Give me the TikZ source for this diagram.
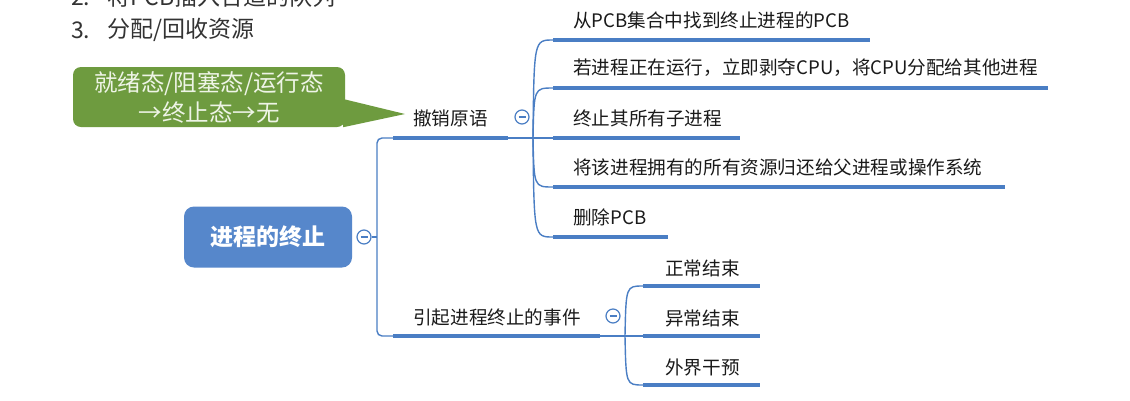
\documentclass[tikz,border=0pt]{standalone}
\usepackage{fontspec}
\setmainfont{Noto Sans CJK SC}
\definecolor{lineblue}{HTML}{4A7EC4}
\definecolor{rootblue}{HTML}{5687CB}
\definecolor{calloutgreen}{HTML}{6E9B3F}
\definecolor{callouttext}{HTML}{EEF4E6}
\definecolor{txt}{HTML}{1A1A1A}
\definecolor{toptxt}{HTML}{333333}
\begin{document}
\begin{tikzpicture}[x=1pt,y=-1pt,
  toptext/.style={anchor=west,inner sep=0pt,text=toptxt,font=\fontsize{23}{25}\selectfont},
  lbl/.style={anchor=west,inner sep=0pt,text=txt,font=\fontsize{18.6}{21}\selectfont},
  thickline/.style={draw=lineblue,line width=4pt},
  link/.style={draw=lineblue,line width=1.4pt},
  fold/.style={circle,draw=lineblue,line width=1.2pt,fill=white,minimum size=14pt,inner sep=0pt,
    path picture={\draw[lineblue,line width=1.1pt]([xshift=-3.5pt]path picture bounding box.center)--([xshift=3.5pt]path picture bounding box.center);}},
  root/.style={fill=rootblue,rounded corners=10pt,minimum width=168pt,minimum height=61pt,text=white,
    font=\fontsize{23}{26}\selectfont\bfseries},
  callout/.style={fill=calloutgreen,rounded corners=8pt,minimum width=272pt,minimum height=60pt,text=callouttext,
    align=center,font=\fontsize{23.5}{30}\selectfont}
]
\useasboundingbox (0,0) rectangle (1130,400);
\clip (0,0) rectangle (1130,400);
\fill[white] (0,0) rectangle (1130,400);

% top list
\node[toptext] (n2) at (71,-3) {2.};
\node[toptext] (t2) at (107,-3) {将PCB插入合适的队列};
\node[toptext] (n3) at (71,30) {3.};
\node[toptext] (t3) at (107,30) {分配/回收资源};

% callout
\node[callout] (state) at (209,97) {就绪态/阻塞态/运行态\\→终止态→无};
\coordinate (tip) at (405,114);
\fill[calloutgreen] (state.east) ++(-2,2) -- (tip) -- ([shift={(-2,0)}]state.south east) ++(0,-6) -- cycle;

% root
\node[root] (root) at (268,237) {进程的终止};
\node[fold] (f0) at (364,237) {};
\coordinate (t) at (377,237);
\coordinate (b1s) at (393,138);
\coordinate (b2s) at (393,336);
\draw[link] (f0.east) -- (t);
\draw[link,rounded corners=5pt] (b1s) -| (t) |- (b2s);

% branch 1
\node[lbl] (b1) at (413,118) {撤销原语};
\coordinate (b1e) at (508,138);
\coordinate (j1) at (533,138);
\draw[thickline] (b1s) -- (b1e);
\draw[link] (b1e) -- (553,138);
\node[fold] (f1) at (522,117) {};

\foreach \y/\xe/\name/\t in {
  40/870/c1/从PCB集合中找到终止进程的PCB,
  88/1048/c2/若进程正在运行，立即剥夺CPU，将CPU分配给其他进程,
  138/740/c3/终止其所有子进程,
  187/1005/c4/将该进程拥有的所有资源归还给父进程或操作系统,
  237/668/c5/删除PCB}{
  \coordinate (\name s) at (553,\y);
  \draw[thickline] (\name s) -- (\xe,\y);
  \node[lbl] (\name) at (573,\y-20) {\t};
  \draw[link] (j1) .. controls (534,\y) .. (\name s);
}

% branch 2
\node[lbl] (b2) at (413,317) {引起进程终止的事件};
\coordinate (b2e) at (600,336);
\coordinate (j2) at (625,336);
\draw[thickline] (b2s) -- (b2e);
\draw[link] (b2e) -- (643,336);
\node[fold] (f2) at (613,316) {};

\foreach \y/\name/\t in {
  286/d1/正常结束,
  336/d2/异常结束,
  385/d3/外界干预}{
  \coordinate (\name s) at (643,\y);
  \draw[thickline] (\name s) -- (760,\y);
  \node[lbl] (\name) at (665,\y-18) {\t};
  \draw[link] (j2) .. controls (626,\y) .. (\name s);
}
\end{tikzpicture}
\end{document}
